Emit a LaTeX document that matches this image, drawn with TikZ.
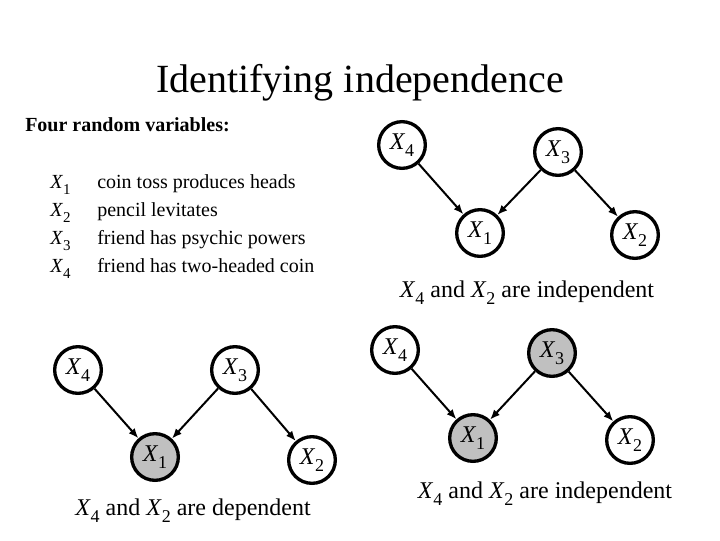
\documentclass[tikz,border=0pt]{standalone}
\usepackage{fontspec}
\setmainfont{Liberation Serif}
\usetikzlibrary{positioning,arrows.meta}
\definecolor{shade}{RGB}{192,192,192}
\newcommand{\rv}[1]{\textit{X}\raisebox{-0.3em}{\scalebox{0.75}{#1}}}

\begin{document}
\begin{tikzpicture}[x=0.75pt,y=-0.75pt,
    var/.style={circle,draw,line width=2.5pt,minimum size=35pt,inner sep=0pt,
      fill=white,font=\fontsize{18}{22}\selectfont},
    obs/.style={var,fill=shade},
    edge/.style={line width=1.5pt,-{Latex[length=7.5pt,width=6pt]}},
    verdict/.style={anchor=base,font=\fontsize{18}{22}\selectfont}]
  \useasboundingbox (0,0) rectangle (720,540);
  \node[anchor=base,font=\fontsize{30}{36}\selectfont] (title) at (360,92)
    {Identifying independence};
  \node[anchor=base west,inner sep=0pt,font=\fontsize{15}{18}\selectfont\bfseries]
    (head) at (25,131) {Four random variables:};
  \foreach \i/\y/\txt in {1/188/coin toss produces heads,2/216/pencil levitates,
    3/244/friend has psychic powers,4/272/friend has two-headed coin}{
    \node[anchor=base west,inner sep=0pt,font=\fontsize{15}{18}\selectfont]
      (v\i) at (50,\y) {\rv{\i}};
    \node[anchor=base west,inner sep=0pt,font=\fontsize{15}{18}\selectfont]
      (d\i) at (97,\y) {\txt};}
  % top right: nothing observed
  \node[var] (a4) at (402,145) {\rv{4}};
  \node[var] (a3) at (558,152) {\rv{3}};
  \node[var] (a1) at (480,233) {\rv{1}};
  \node[var] (a2) at (635,235) {\rv{2}};
  \draw[edge] (a4) -- (a1); \draw[edge] (a3) -- (a1); \draw[edge] (a3) -- (a2);
  \node[verdict] (acap) at (527,297) {\rv{4} and \rv{2} are independent};
  % bottom left: X1 observed
  \node[var] (b4) at (78,370) {\rv{4}};
  \node[var] (b3) at (235,370) {\rv{3}};
  \node[obs] (b1) at (155,457) {\rv{1}};
  \node[var] (b2) at (312,460) {\rv{2}};
  \draw[edge] (b4) -- (b1); \draw[edge] (b3) -- (b1); \draw[edge] (b3) -- (b2);
  \node[verdict] (bcap) at (193,515) {\rv{4} and \rv{2} are dependent};
  % bottom right: X1 and X3 observed
  \node[var] (c4) at (395,350) {\rv{4}};
  \node[obs] (c3) at (552,353) {\rv{3}};
  \node[obs] (c1) at (473,438) {\rv{1}};
  \node[var] (c2) at (630,440) {\rv{2}};
  \draw[edge] (c4) -- (c1); \draw[edge] (c3) -- (c1); \draw[edge] (c3) -- (c2);
  \node[verdict] (ccap) at (545,498) {\rv{4} and \rv{2} are independent};
\end{tikzpicture}
\end{document}
